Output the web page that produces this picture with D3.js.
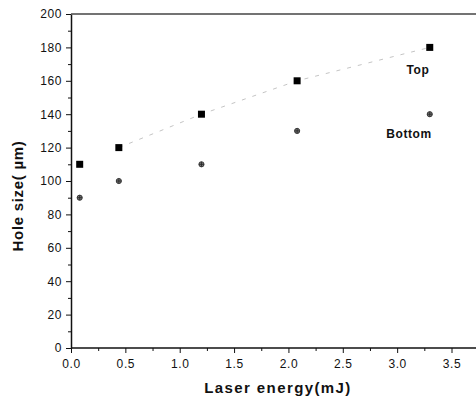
<!DOCTYPE html>
<meta charset="utf-8">
<style>
body { margin: 0; background: #fff; }
svg { font-family: "Liberation Sans", Arial, sans-serif; }
.tick text { font-size: 12px; letter-spacing: 0.6px; fill: #111; }
.axis path, .axis line { stroke: #111; }
.title { font-weight: bold; font-size: 15px; fill: #111; }
.lab { font-weight: bold; font-size: 12px; letter-spacing: 0.6px; fill: #111; }
</style>
<body>
<svg id="chart" width="476" height="403"></svg>
<script src="https://cdn.jsdelivr.net/npm/d3@7"></script>
<script>

// laser energy (mJ) for each shot
var energy = [0.08, 0.44, 1.2, 2.08, 3.3];
// hole sizes (um)
var topSize = [110, 120, 140, 160, 180];
var bottomSize = [90, 100, 110, 130, 140];

var xTicks = [0, 0.5, 1.0, 1.5, 2.0, 2.5, 3.0, 3.5];
var yTicks = [0, 20, 40, 60, 80, 100, 120, 140, 160, 180, 200];

var svg = d3.select("#chart");

var x = d3.scaleLinear().domain([0, 3.5]).range([71, 451.5]);
var y = d3.scaleLinear().domain([0, 200]).range([348, 14]);

// minor ticks
svg.append("g")
  .attr("class", "axis")
  .attr("transform", "translate(0,348)")
  .call(d3.axisBottom(x).tickValues(d3.range(0.25, 3.8, 0.5)).tickSize(3).tickFormat(""))
  .call(function(g) { g.select(".domain").remove(); });

svg.append("g")
  .attr("class", "axis")
  .attr("transform", "translate(71,0)")
  .call(d3.axisLeft(y).tickValues(d3.range(10, 200, 20)).tickSize(3).tickFormat(""))
  .call(function(g) { g.select(".domain").remove(); });

// major axes
var xAxis = svg.append("g")
  .attr("class", "axis")
  .attr("transform", "translate(0,348)")
  .call(d3.axisBottom(x).tickValues(xTicks).tickSize(5).tickSizeOuter(0).tickPadding(6)
    .tickFormat(d3.format(".1f")));
xAxis.select(".domain").attr("d", "M71,0H476").attr("stroke-width", 1.5);

var yAxis = svg.append("g")
  .attr("class", "axis")
  .attr("transform", "translate(71,0)")
  .call(d3.axisLeft(y).tickValues(yTicks).tickSize(5).tickSizeOuter(0).tickPadding(4));
yAxis.select(".domain").attr("stroke-width", 1.5);

// top frame
svg.append("line")
  .attr("x1", 71).attr("x2", 476)
  .attr("y1", y(200)).attr("y2", y(200))
  .attr("stroke", "#444").attr("stroke-width", 1.5);

// faint trend line through top points
var line = d3.line()
  .x(function(d, i) { return x(energy[i + 1]); })
  .y(function(d) { return y(d); });
svg.append("path")
  .datum(topSize.slice(1))
  .attr("d", line)
  .attr("fill", "none")
  .attr("stroke", "#aaa")
  .attr("stroke-width", 0.7)
  .attr("stroke-dasharray", "4,7");

// top markers: squares
svg.selectAll(".sq")
  .data(topSize)
  .enter().append("rect")
  .attr("class", "sq")
  .attr("x", function(d, i) { return x(energy[i]) - 3.5; })
  .attr("y", function(d) { return y(d) - 3.5; })
  .attr("width", 7)
  .attr("height", 7)
  .attr("fill", "#000");

// bottom markers: small circles with a cross
var bot = svg.selectAll(".bt")
  .data(bottomSize)
  .enter().append("g")
  .attr("class", "bt")
  .attr("transform", function(d, i) { return "translate(" + x(energy[i]) + "," + y(d) + ")"; });
bot.append("circle").attr("r", 2.6).attr("fill", "#777").attr("stroke", "#222").attr("stroke-width", 0.8);
bot.append("path").attr("d", "M-2.5,0H2.5M0,-2.5V2.5").attr("stroke", "#222").attr("stroke-width", 0.8);

// labels
svg.append("text").attr("class", "lab")
  .attr("x", 418).attr("y", 74).attr("text-anchor", "middle").text("Top");
svg.append("text").attr("class", "lab")
  .attr("x", 409).attr("y", 138).attr("text-anchor", "middle").text("Bottom");

// axis titles
svg.append("text").attr("class", "title")
  .attr("x", 278).attr("y", 393).attr("text-anchor", "middle")
  .style("letter-spacing", "1.4px")
  .text("Laser energy(mJ)");

svg.append("text").attr("class", "title")
  .attr("transform", "translate(23,196) rotate(-90)")
  .attr("text-anchor", "middle")
  .style("letter-spacing", "0.7px")
  .text("Hole size( \u00b5m)");

</script>
